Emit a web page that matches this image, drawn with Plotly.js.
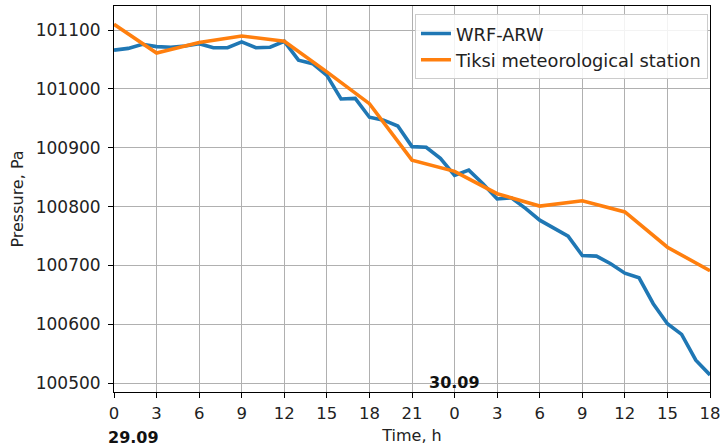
<!DOCTYPE html>
<html>
<head>
<meta charset="utf-8">
<script src="https://cdn.plot.ly/plotly-3.0.1.min.js"></script>
<style>html,body{margin:0;padding:0;background:#fff;}#chart{width:722px;height:448px;}</style>
</head>
<body>
<div id="chart"></div>
<script>
// Hours since 29.09 00:00
const wrfHours = [0,1,2,3,4,5,6,7,8,9,10,11,12,13,14,15,16,17,18,19,20,21,22,23,24,25,26,27,28,29,30,31,32,33,34,35,36,37,38,39,40,41,42];
const wrfPressure = [101066,101069,101076,101072,101071,101073,101077,101070,101070,101080,101070,101071,101081,101049,101043,101023,100983,100984,100952,100947,100937,100902,100901,100882,100853,100862,100839,100813,100815,100797,100777,100763,100750,100717,100716,100703,100687,100679,100635,100601,100583,100539,100514];
const stationHours = [0,3,6,9,12,15,18,21,24,27,30,33,36,39,42];
const stationPressure = [101110,101061,101079,101090,101081,101029,100975,100879,100860,100822,100801,100810,100791,100731,100691];
const tickHours = [0,3,6,9,12,15,18,21,24,27,30,33,36,39,42];
const tickLabels = ['0','3','6','9','12','15','18','21','0','3','6','9','12','15','18'];
const yTicks = [100500,100600,100700,100800,100900,101000,101100];
const yTickLabels = ['100500','100600','100700','100800','100900','101000','101100'];
const seriesNames = ['WRF-ARW','Tiksi meteorological station'];
const dateLabels = ['29.09','30.09'];

const font = 'DejaVu Sans, sans-serif';
const txt = '#222';
const traces = [
  {x: wrfHours, y: wrfPressure, name: seriesNames[0], mode: 'lines', line: {color: '#1f77b4', width: 3.6}},
  {x: stationHours, y: stationPressure, name: seriesNames[1], mode: 'lines', line: {color: '#ff7f0e', width: 3.6}}
];
const layout = {
  width: 722, height: 448,
  margin: {l: 114, r: 12, t: 6, b: 56},
  paper_bgcolor: '#fff', plot_bgcolor: '#fff',
  font: {family: font, size: 16, color: txt},
  showlegend: true,
  legend: {x: 0.9966, y: 0.978, xanchor: 'right', yanchor: 'top', bgcolor: 'rgba(255,255,255,0.85)', bordercolor: '#cccccc', borderwidth: 1, font: {family: font, size: 17.8, color: txt}, tracegroupgap: 0},
  xaxis: {
    range: [0, 42], tickmode: 'array', tickvals: tickHours, ticktext: tickLabels,
    showgrid: true, gridcolor: '#b0b0b0', gridwidth: 1,
    showline: true, linecolor: '#000', linewidth: 1, mirror: true,
    ticks: 'outside', ticklen: 5, tickcolor: '#000', zeroline: false,
    ticklabelstandoff: 1,
    title: {text: 'Time, h', font: {family: font, size: 16, color: txt}, standoff: 8},
    tickfont: {family: font, size: 16.5, color: txt}
  },
  yaxis: {
    range: [100485, 101141], tickmode: 'array', tickvals: yTicks, ticktext: yTickLabels,
    showgrid: true, gridcolor: '#b0b0b0', gridwidth: 1,
    showline: true, linecolor: '#000', linewidth: 1, mirror: true,
    ticks: 'outside', ticklen: 5, tickcolor: '#000', zeroline: false,
    ticklabelstandoff: 4,
    title: {text: 'Pressure, Pa', font: {family: font, size: 16, color: txt}, standoff: 8},
    tickfont: {family: font, size: 17, color: txt}
  },
  annotations: [
    {x: 0.032, xref: 'paper', y: -0.118, yref: 'paper', text: '<b>' + dateLabels[0] + '</b>', showarrow: false, xanchor: 'center', yanchor: 'middle', font: {family: font, size: 16, color: '#111'}},
    {x: 24, xref: 'x', y: 100501, yref: 'y', text: '<b>' + dateLabels[1] + '</b>', showarrow: false, xanchor: 'center', yanchor: 'middle', font: {family: font, size: 16, color: '#111'}}
  ]
};
Plotly.newPlot('chart', traces, layout, {displayModeBar: false, staticPlot: true});
</script>
</body>
</html>
